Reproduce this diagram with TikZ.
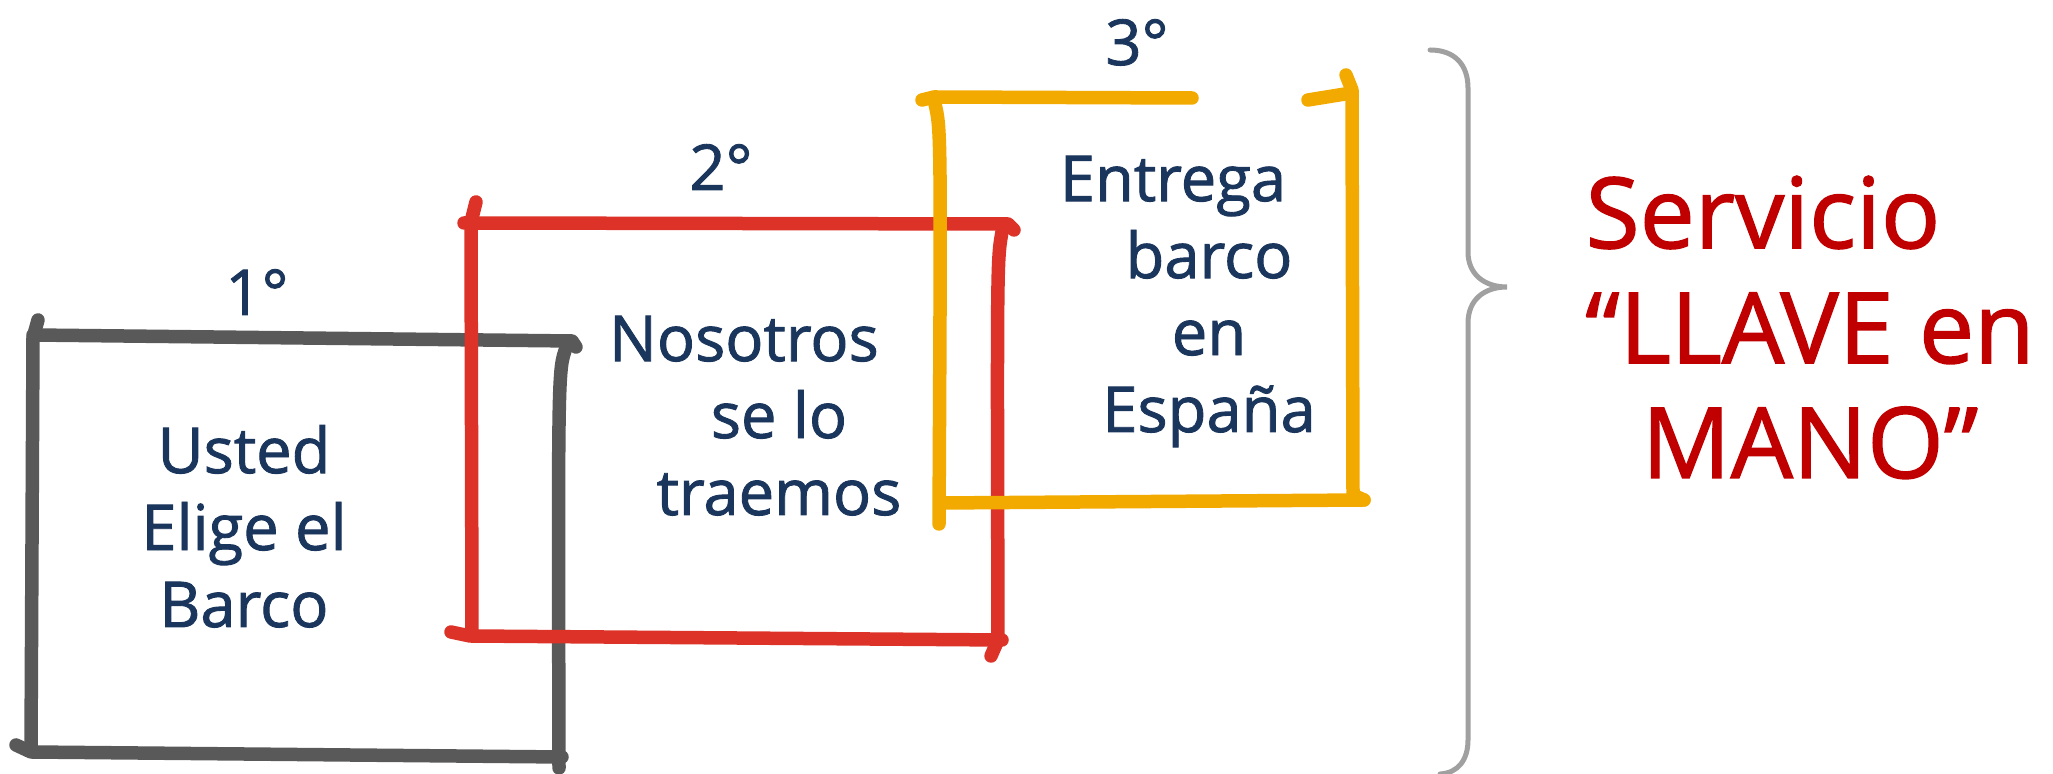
\documentclass[tikz,border=0pt]{standalone}
\usepackage{fontspec}
\setmainfont{Open Sans}[BoldFont={Open Sans},BoldFeatures={FakeBold=1.4}]
\usetikzlibrary{positioning}

\definecolor{inkblue}{RGB}{27,54,93}
\definecolor{pengray}{RGB}{89,89,89}
\definecolor{penred}{RGB}{220,50,40}
\definecolor{penyellow}{RGB}{243,170,0}
\definecolor{bracegray}{RGB}{160,160,160}
\definecolor{titlered}{RGB}{192,0,0}

\begin{document}
\begin{tikzpicture}[x=0.1mm,y=-0.1mm,
        pen/.style={line width=1.35mm,line cap=round,line join=round},
        boxtext/.style={text=inkblue,font=\fontsize{18}{21.9}\selectfont\bfseries,align=center,inner sep=0pt,anchor=base},
        bigtext/.style={text=titlered,font=\fontsize{28}{32.7}\selectfont\bfseries,align=center,inner sep=0pt,anchor=base}]
    \useasboundingbox (0,0) rectangle (2053,774);
    % 1st box
    \draw[pen,pengray] (38,320) -- (33,338) -- (31,750);
    \draw[pen,pengray] (33,335) -- (572,341) -- (576,347);
    \draw[pen,pengray] (566,348) .. controls (558,370) .. (559,768);
    \draw[pen,pengray] (16,745) -- (31,752) -- (562,757);
    % 2nd box
    \draw[pen,penred] (476,202) -- (471,222) -- (472,632);
    \draw[pen,penred] (464,223) -- (1008,224) -- (1014,230);
    \draw[pen,penred] (1002,232) .. controls (997,260) .. (998,640) -- (991,656);
    \draw[pen,penred] (451,632) -- (470,636) -- (1002,640);
    % 3rd box
    \draw[pen,penyellow] (922,100) -- (934,97) -- (1192,98);
    \draw[pen,penyellow] (1308,100) -- (1345,94);
    \draw[pen,penyellow] (1346,75) -- (1352,90) -- (1353,495) -- (1364,500);
    \draw[pen,penyellow] (935,104) .. controls (941,130) .. (939,524);
    \draw[pen,penyellow] (940,503) -- (1364,500);
    % brace
    \draw[bracegray,line width=0.5mm,line cap=round]
        (1430,50) .. controls (1455,50) and (1468,65) .. (1468,88) -- (1468,252)
        .. controls (1468,274) and (1484,287) .. (1507,287)
        .. controls (1484,287) and (1468,300) .. (1468,323) -- (1468,740)
        .. controls (1468,760) and (1458,773) .. (1440,774);
    % labels (base = last line)
    \node[boxtext] (one)   at (257,315) {1°};
    \node[boxtext] (two)   at (721,190) {2°};
    \node[boxtext] (three) at (1137,65) {3°};
    \node[boxtext] (choose)  at (244,627)  {Usted\\Elige el\\Barco};
    \node[boxtext] (bring)   at (779,515)  {Nosotros\hspace*{7mm}\\se lo\\traemos};
    \node[boxtext] (deliver) at (1209,432) {Entrega\hspace*{7.2mm}\\barco\\en\\España};
    \node[bigtext] (service) at (1810,478) {Servicio\hspace*{9.4mm}\\“LLAVE en\\MANO”};
\end{tikzpicture}
\end{document}
